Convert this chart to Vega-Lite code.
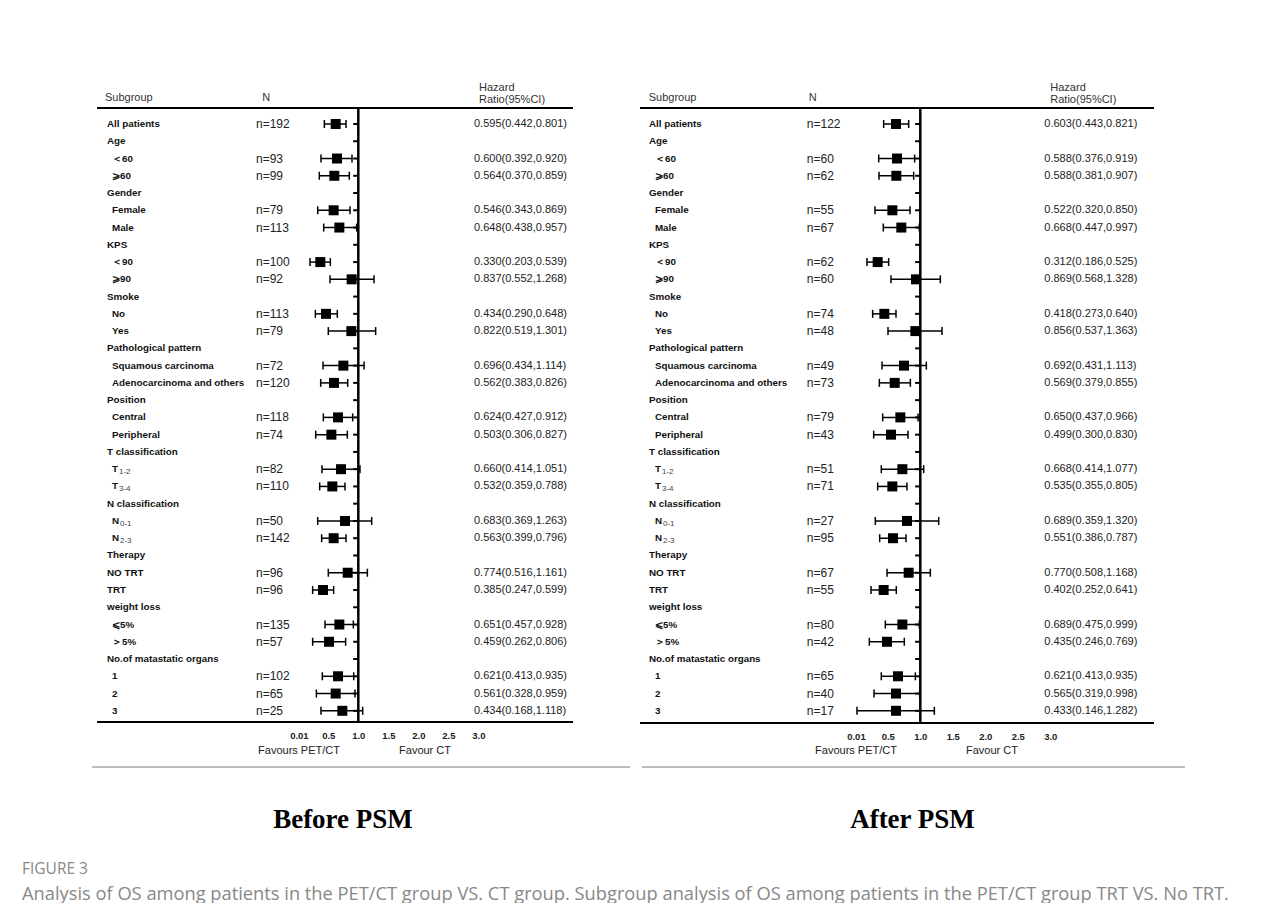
{
"$schema": "https://vega.github.io/schema/vega-lite/v6.json",
"background": "white",
"padding": {"left": 22, "top": 75, "right": 0, "bottom": 0},
"config": {"view": {"stroke": null}, "font": "Liberation Sans"},
"title": {"text": "FIGURE 3", "subtitle": "Analysis of OS among patients in the PET/CT group VS. CT group. Subgroup analysis of OS among patients in the PET/CT group TRT VS. No TRT.", "orient": "bottom", "anchor": "start", "offset": 29, "font": "Open Sans", "fontSize": 15.5, "fontWeight": "normal", "color": "#888888", "subtitleFont": "Open Sans", "subtitleFontSize": 18.3, "subtitleColor": "#888888", "subtitlePadding": 8},
"datasets": {
"before": [
{"r":0,"lvl":0,"label":"All patients","n":"n=192","hr":"0.595(0.442,0.801)","est":0.623,"lo":0.434,"hi":0.795},
{"r":1,"lvl":0,"label":"Age"},
{"r":2,"lvl":1,"label":"＜60","n":"n=93","hr":"0.600(0.392,0.920)","est":0.645,"lo":0.378,"hi":0.895},
{"r":3,"lvl":1,"label":"⩾60","n":"n=99","hr":"0.564(0.370,0.859)","est":0.600,"lo":0.350,"hi":0.850},
{"r":4,"lvl":0,"label":"Gender"},
{"r":5,"lvl":1,"label":"Female","n":"n=79","hr":"0.546(0.343,0.869)","est":0.589,"lo":0.323,"hi":0.862},
{"r":6,"lvl":1,"label":"Male","n":"n=113","hr":"0.648(0.438,0.957)","est":0.684,"lo":0.423,"hi":0.973},
{"r":7,"lvl":0,"label":"KPS"},
{"r":8,"lvl":1,"label":"＜90","n":"n=100","hr":"0.330(0.203,0.539)","est":0.367,"lo":0.195,"hi":0.534},
{"r":9,"lvl":1,"label":"⩾90","n":"n=92","hr":"0.837(0.552,1.268)","est":0.889,"lo":0.528,"hi":1.262},
{"r":10,"lvl":0,"label":"Smoke"},
{"r":11,"lvl":1,"label":"No","n":"n=113","hr":"0.434(0.290,0.648)","est":0.462,"lo":0.284,"hi":0.650},
{"r":12,"lvl":1,"label":"Yes","n":"n=79","hr":"0.822(0.519,1.301)","est":0.884,"lo":0.500,"hi":1.289},
{"r":13,"lvl":0,"label":"Pathological pattern"},
{"r":14,"lvl":1,"label":"Squamous carcinoma","n":"n=72","hr":"0.696(0.434,1.114)","est":0.751,"lo":0.412,"hi":1.096},
{"r":15,"lvl":1,"label":"Adenocarcinoma and others","n":"n=120","hr":"0.562(0.383,0.826)","est":0.595,"lo":0.373,"hi":0.823},
{"r":16,"lvl":0,"label":"Position"},
{"r":17,"lvl":1,"label":"Central","n":"n=118","hr":"0.624(0.427,0.912)","est":0.662,"lo":0.417,"hi":0.906},
{"r":18,"lvl":1,"label":"Peripheral","n":"n=74","hr":"0.503(0.306,0.827)","est":0.551,"lo":0.290,"hi":0.817},
{"r":19,"lvl":0,"label":"T classification"},
{"r":20,"lvl":1,"label":"T","sub":"1-2","n":"n=82","hr":"0.660(0.414,1.051)","est":0.712,"lo":0.395,"hi":1.028},
{"r":21,"lvl":1,"label":"T","sub":"3-4","n":"n=110","hr":"0.532(0.359,0.788)","est":0.567,"lo":0.356,"hi":0.778},
{"r":22,"lvl":0,"label":"N classification"},
{"r":23,"lvl":1,"label":"N","sub":"0-1","n":"n=50","hr":"0.683(0.369,1.263)","est":0.778,"lo":0.323,"hi":1.223},
{"r":24,"lvl":1,"label":"N","sub":"2-3","n":"n=142","hr":"0.563(0.399,0.796)","est":0.589,"lo":0.389,"hi":0.795},
{"r":25,"lvl":0,"label":"Therapy"},
{"r":26,"lvl":0,"label":"NO TRT","n":"n=96","hr":"0.774(0.516,1.161)","est":0.823,"lo":0.500,"hi":1.151},
{"r":27,"lvl":0,"label":"TRT","n":"n=96","hr":"0.385(0.247,0.599)","est":0.412,"lo":0.239,"hi":0.589},
{"r":28,"lvl":0,"label":"weight loss"},
{"r":29,"lvl":1,"label":"⩽5%","n":"n=135","hr":"0.651(0.457,0.928)","est":0.684,"lo":0.445,"hi":0.917},
{"r":30,"lvl":1,"label":"＞5%","n":"n=57","hr":"0.459(0.262,0.806)","est":0.512,"lo":0.239,"hi":0.789},
{"r":31,"lvl":0,"label":"No.of matastatic organs"},
{"r":32,"lvl":1,"label":"1","n":"n=102","hr":"0.621(0.413,0.935)","est":0.662,"lo":0.400,"hi":0.923},
{"r":33,"lvl":1,"label":"2","n":"n=65","hr":"0.561(0.328,0.959)","est":0.623,"lo":0.301,"hi":0.945},
{"r":34,"lvl":1,"label":"3","n":"n=25","hr":"0.434(0.168,1.118)","est":0.734,"lo":0.378,"hi":1.073}
],
"after": [
{"r":0,"lvl":0,"label":"All patients","n":"n=122","hr":"0.603(0.443,0.821)","est":0.626,"lo":0.436,"hi":0.821},
{"r":1,"lvl":0,"label":"Age"},
{"r":2,"lvl":1,"label":"＜60","n":"n=60","hr":"0.588(0.376,0.919)","est":0.642,"lo":0.360,"hi":0.913},
{"r":3,"lvl":1,"label":"⩾60","n":"n=62","hr":"0.588(0.381,0.907)","est":0.631,"lo":0.365,"hi":0.898},
{"r":4,"lvl":0,"label":"Gender"},
{"r":5,"lvl":1,"label":"Female","n":"n=55","hr":"0.522(0.320,0.850)","est":0.570,"lo":0.303,"hi":0.842},
{"r":6,"lvl":1,"label":"Male","n":"n=67","hr":"0.668(0.447,0.997)","est":0.708,"lo":0.431,"hi":0.985},
{"r":7,"lvl":0,"label":"KPS"},
{"r":8,"lvl":1,"label":"＜90","n":"n=62","hr":"0.312(0.186,0.525)","est":0.344,"lo":0.180,"hi":0.513},
{"r":9,"lvl":1,"label":"⩾90","n":"n=60","hr":"0.869(0.568,1.328)","est":0.934,"lo":0.549,"hi":1.308},
{"r":10,"lvl":0,"label":"Smoke"},
{"r":11,"lvl":1,"label":"No","n":"n=74","hr":"0.418(0.273,0.640)","est":0.447,"lo":0.267,"hi":0.626},
{"r":12,"lvl":1,"label":"Yes","n":"n=48","hr":"0.856(0.537,1.363)","est":0.924,"lo":0.503,"hi":1.334},
{"r":13,"lvl":0,"label":"Pathological pattern"},
{"r":14,"lvl":1,"label":"Squamous carcinoma","n":"n=49","hr":"0.692(0.431,1.113)","est":0.749,"lo":0.411,"hi":1.093},
{"r":15,"lvl":1,"label":"Adenocarcinoma and others","n":"n=73","hr":"0.569(0.379,0.855)","est":0.606,"lo":0.370,"hi":0.847},
{"r":16,"lvl":0,"label":"Position"},
{"r":17,"lvl":1,"label":"Central","n":"n=79","hr":"0.650(0.437,0.966)","est":0.693,"lo":0.421,"hi":0.965},
{"r":18,"lvl":1,"label":"Peripheral","n":"n=43","hr":"0.499(0.300,0.830)","est":0.549,"lo":0.283,"hi":0.811},
{"r":19,"lvl":0,"label":"T classification"},
{"r":20,"lvl":1,"label":"T","sub":"1-2","n":"n=51","hr":"0.668(0.414,1.077)","est":0.724,"lo":0.400,"hi":1.052},
{"r":21,"lvl":1,"label":"T","sub":"3-4","n":"n=71","hr":"0.535(0.355,0.805)","est":0.570,"lo":0.344,"hi":0.795},
{"r":22,"lvl":0,"label":"N classification"},
{"r":23,"lvl":1,"label":"N","sub":"0-1","n":"n=27","hr":"0.689(0.359,1.320)","est":0.795,"lo":0.308,"hi":1.283},
{"r":24,"lvl":1,"label":"N","sub":"2-3","n":"n=95","hr":"0.551(0.386,0.787)","est":0.580,"lo":0.375,"hi":0.780},
{"r":25,"lvl":0,"label":"Therapy"},
{"r":26,"lvl":0,"label":"NO TRT","n":"n=67","hr":"0.770(0.508,1.168)","est":0.821,"lo":0.488,"hi":1.154},
{"r":27,"lvl":0,"label":"TRT","n":"n=55","hr":"0.402(0.252,0.641)","est":0.436,"lo":0.242,"hi":0.631},
{"r":28,"lvl":0,"label":"weight loss"},
{"r":29,"lvl":1,"label":"⩽5%","n":"n=80","hr":"0.689(0.475,0.999)","est":0.724,"lo":0.462,"hi":0.985},
{"r":30,"lvl":1,"label":"＞5%","n":"n=42","hr":"0.435(0.246,0.769)","est":0.488,"lo":0.216,"hi":0.754},
{"r":31,"lvl":0,"label":"No.of matastatic organs"},
{"r":32,"lvl":1,"label":"1","n":"n=65","hr":"0.621(0.413,0.935)","est":0.657,"lo":0.400,"hi":0.924},
{"r":33,"lvl":1,"label":"2","n":"n=40","hr":"0.565(0.319,0.998)","est":0.626,"lo":0.288,"hi":0.990},
{"r":34,"lvl":1,"label":"3","n":"n=17","hr":"0.433(0.146,1.282)","est":0.626,"lo":0.026,"hi":1.216}
]
},
"hconcat": [
{
"width": 608, "height": 695,
"data": {"name": "before"},
"title": {"text": "Before PSM", "orient": "bottom", "font": "Liberation Serif", "fontSize": 27, "fontWeight": "bold", "color": "#000000", "offset": 37, "dx": 17},
"layer": [
{"data": {"values": [{}]}, "mark": {"type": "rule", "color": "#a8a8a8", "strokeWidth": 1.5},
 "encoding": {
  "x": {"datum": -3.438, "type": "quantitative", "scale": {"domain": [-4.605, 5.528], "nice": false, "zero": false},
        "axis": {"values": [0.01, 0.5, 1, 1.5, 2, 2.5, 3], "labelExpr": "datum.value == 0.01 ? '0.01' : format(datum.value, '.1f')", "domain": false, "ticks": false, "grid": false, "labelFont": "Liberation Sans", "labelFontWeight": "bold", "labelFontSize": 9.5, "labelColor": "#222222", "offset": -48, "labelPadding": 8, "title": null, "labelFlush": false, "labelOverlap": false}},
  "x2": {"datum": 5.528},
  "y": {"datum": 37.25, "type": "quantitative", "scale": {"domain": [-2.839, 37.43], "reverse": true, "nice": false, "zero": false}, "axis": null}}},
{"data": {"values": [{}]}, "mark": {"type": "rule", "color": "#000000", "strokeWidth": 2},
 "encoding": {"x": {"datum": -3.355, "type": "quantitative"}, "x2": {"datum": 4.578}, "y": {"datum": -0.93, "type": "quantitative"}}},
{"data": {"values": [{}]}, "mark": {"type": "rule", "color": "#000000", "strokeWidth": 2},
 "encoding": {"x": {"datum": -3.355, "type": "quantitative"}, "x2": {"datum": 4.578}, "y": {"datum": 34.65, "type": "quantitative"}}},
{"data": {"values": [{}]}, "mark": {"type": "rule", "color": "#000000", "strokeWidth": 2.5},
 "encoding": {"x": {"datum": 1, "type": "quantitative"}, "y": {"datum": -0.93, "type": "quantitative"}, "y2": {"datum": 34.65}}},
{"mark": {"type": "rule", "color": "#000000", "strokeWidth": 2},
 "encoding": {"x": {"datum": 0.915, "type": "quantitative"}, "x2": {"datum": 1}, "y": {"field": "r", "type": "quantitative"}}},
{"transform": [{"filter": "isValid(datum.est)"}], "mark": {"type": "rule", "color": "#000000", "strokeWidth": 1.5},
 "encoding": {"x": {"field": "lo", "type": "quantitative"}, "x2": {"field": "hi"}, "y": {"field": "r", "type": "quantitative"}}},
{"transform": [{"filter": "isValid(datum.est)"}], "mark": {"type": "tick", "orient": "vertical", "size": 8, "thickness": 1.5, "color": "#000000", "opacity": 1},
 "encoding": {"x": {"field": "lo", "type": "quantitative"}, "y": {"field": "r", "type": "quantitative"}}},
{"transform": [{"filter": "isValid(datum.est)"}], "mark": {"type": "tick", "orient": "vertical", "size": 8, "thickness": 1.5, "color": "#000000", "opacity": 1},
 "encoding": {"x": {"field": "hi", "type": "quantitative"}, "y": {"field": "r", "type": "quantitative"}}},
{"transform": [{"filter": "isValid(datum.est)"}], "mark": {"type": "square", "size": 100, "color": "#000000", "filled": true, "opacity": 1},
 "encoding": {"x": {"field": "est", "type": "quantitative"}, "y": {"field": "r", "type": "quantitative"}}},
{"transform": [{"filter": "datum.lvl == 0"}], "mark": {"type": "text", "align": "left", "baseline": "middle", "fontWeight": "bold", "fontSize": 9.8, "color": "#111111"},
 "encoding": {"x": {"datum": -3.188, "type": "quantitative"}, "y": {"field": "r", "type": "quantitative"}, "text": {"field": "label"}}},
{"transform": [{"filter": "datum.lvl == 1"}], "mark": {"type": "text", "align": "left", "baseline": "middle", "fontWeight": "bold", "fontSize": 9.8, "color": "#111111"},
 "encoding": {"x": {"datum": -3.105, "type": "quantitative"}, "y": {"field": "r", "type": "quantitative"}, "text": {"field": "label"}}},
{"transform": [{"filter": "datum.sub && datum.label == 'T'"}], "mark": {"type": "text", "align": "left", "baseline": "middle", "fontSize": 8, "dx": 7, "dy": 3, "color": "#444444"},
 "encoding": {"x": {"datum": -3.105, "type": "quantitative"}, "y": {"field": "r", "type": "quantitative"}, "text": {"field": "sub"}}},
{"transform": [{"filter": "datum.sub && datum.label == 'N'"}], "mark": {"type": "text", "align": "left", "baseline": "middle", "fontSize": 8, "dx": 8, "dy": 3, "color": "#444444"},
 "encoding": {"x": {"datum": -3.105, "type": "quantitative"}, "y": {"field": "r", "type": "quantitative"}, "text": {"field": "sub"}}},
{"transform": [{"filter": "datum.n"}], "mark": {"type": "text", "align": "left", "baseline": "middle", "fontSize": 12, "color": "#222222"},
 "encoding": {"x": {"datum": -0.705, "type": "quantitative"}, "y": {"field": "r", "type": "quantitative"}, "text": {"field": "n"}}},
{"transform": [{"filter": "datum.hr"}], "mark": {"type": "text", "align": "left", "baseline": "middle", "fontSize": 11, "color": "#222222"},
 "encoding": {"x": {"datum": 2.928, "type": "quantitative"}, "y": {"field": "r", "type": "quantitative"}, "text": {"field": "hr"}}},
{"data": {"values": [{}]}, "mark": {"type": "text", "text": "Subgroup", "align": "left", "baseline": "middle", "fontSize": 11, "color": "#333333"},
 "encoding": {"x": {"datum": -3.222, "type": "quantitative"}, "y": {"datum": -1.52, "type": "quantitative"}}},
{"data": {"values": [{}]}, "mark": {"type": "text", "text": "N", "align": "left", "baseline": "middle", "fontSize": 11, "color": "#333333"},
 "encoding": {"x": {"datum": -0.6, "type": "quantitative"}, "y": {"datum": -1.52, "type": "quantitative"}}},
{"data": {"values": [{}]}, "mark": {"type": "text", "text": "Hazard", "align": "left", "baseline": "middle", "fontSize": 11, "color": "#333333"},
 "encoding": {"x": {"datum": 3.012, "type": "quantitative"}, "y": {"datum": -2.11, "type": "quantitative"}}},
{"data": {"values": [{}]}, "mark": {"type": "text", "text": "Ratio(95%CI)", "align": "left", "baseline": "middle", "fontSize": 11, "color": "#333333"},
 "encoding": {"x": {"datum": 3.012, "type": "quantitative"}, "y": {"datum": -1.39, "type": "quantitative"}}},
{"data": {"values": [{}]}, "mark": {"type": "text", "text": "Favours PET/CT", "align": "center", "baseline": "middle", "fontSize": 11, "color": "#222222"},
 "encoding": {"x": {"datum": 0.012, "type": "quantitative"}, "y": {"datum": 36.33, "type": "quantitative"}}},
{"data": {"values": [{}]}, "mark": {"type": "text", "text": "Favour CT", "align": "center", "baseline": "middle", "fontSize": 11, "color": "#222222"},
 "encoding": {"x": {"datum": 2.112, "type": "quantitative"}, "y": {"datum": 36.33, "type": "quantitative"}}}
]
},
{
"width": 545, "height": 695,
"data": {"name": "after"},
"title": {"text": "After PSM", "orient": "bottom", "font": "Liberation Serif", "fontSize": 27, "fontWeight": "bold", "color": "#000000", "offset": 37, "dx": 0},
"layer": [
{"data": {"values": [{}]}, "mark": {"type": "rule", "color": "#a8a8a8", "strokeWidth": 1.5},
 "encoding": {
  "x": {"datum": -3.282, "type": "quantitative", "scale": {"domain": [-3.312, 5.072], "nice": false, "zero": false},
        "axis": {"values": [0.01, 0.5, 1, 1.5, 2, 2.5, 3], "labelExpr": "datum.value == 0.01 ? '0.01' : format(datum.value, '.1f')", "domain": false, "ticks": false, "grid": false, "labelFont": "Liberation Sans", "labelFontWeight": "bold", "labelFontSize": 9.5, "labelColor": "#222222", "offset": -47, "labelPadding": 8, "title": null, "labelFlush": false, "labelOverlap": false}},
  "x2": {"datum": 5.072},
  "y": {"datum": 37.25, "type": "quantitative", "scale": {"domain": [-2.839, 37.43], "reverse": true, "nice": false, "zero": false}, "axis": null}}},
{"data": {"values": [{}]}, "mark": {"type": "rule", "color": "#000000", "strokeWidth": 2},
 "encoding": {"x": {"datum": -3.312, "type": "quantitative"}, "x2": {"datum": 4.595}, "y": {"datum": -0.93, "type": "quantitative"}}},
{"data": {"values": [{}]}, "mark": {"type": "rule", "color": "#000000", "strokeWidth": 2},
 "encoding": {"x": {"datum": -3.312, "type": "quantitative"}, "x2": {"datum": 4.595}, "y": {"datum": 34.7, "type": "quantitative"}}},
{"data": {"values": [{}]}, "mark": {"type": "rule", "color": "#000000", "strokeWidth": 2.5},
 "encoding": {"x": {"datum": 1, "type": "quantitative"}, "y": {"datum": -0.93, "type": "quantitative"}, "y2": {"datum": 34.7}}},
{"mark": {"type": "rule", "color": "#000000", "strokeWidth": 2},
 "encoding": {"x": {"datum": 0.92, "type": "quantitative"}, "x2": {"datum": 1}, "y": {"field": "r", "type": "quantitative"}}},
{"transform": [{"filter": "isValid(datum.est)"}], "mark": {"type": "rule", "color": "#000000", "strokeWidth": 1.5},
 "encoding": {"x": {"field": "lo", "type": "quantitative"}, "x2": {"field": "hi"}, "y": {"field": "r", "type": "quantitative"}}},
{"transform": [{"filter": "isValid(datum.est)"}], "mark": {"type": "tick", "orient": "vertical", "size": 8, "thickness": 1.5, "color": "#000000", "opacity": 1},
 "encoding": {"x": {"field": "lo", "type": "quantitative"}, "y": {"field": "r", "type": "quantitative"}}},
{"transform": [{"filter": "isValid(datum.est)"}], "mark": {"type": "tick", "orient": "vertical", "size": 8, "thickness": 1.5, "color": "#000000", "opacity": 1},
 "encoding": {"x": {"field": "hi", "type": "quantitative"}, "y": {"field": "r", "type": "quantitative"}}},
{"transform": [{"filter": "isValid(datum.est)"}], "mark": {"type": "square", "size": 100, "color": "#000000", "filled": true, "opacity": 1},
 "encoding": {"x": {"field": "est", "type": "quantitative"}, "y": {"field": "r", "type": "quantitative"}}},
{"transform": [{"filter": "datum.lvl == 0"}], "mark": {"type": "text", "align": "left", "baseline": "middle", "fontWeight": "bold", "fontSize": 9.8, "color": "#111111"},
 "encoding": {"x": {"datum": -3.174, "type": "quantitative"}, "y": {"field": "r", "type": "quantitative"}, "text": {"field": "label"}}},
{"transform": [{"filter": "datum.lvl == 1"}], "mark": {"type": "text", "align": "left", "baseline": "middle", "fontWeight": "bold", "fontSize": 9.8, "color": "#111111"},
 "encoding": {"x": {"datum": -3.082, "type": "quantitative"}, "y": {"field": "r", "type": "quantitative"}, "text": {"field": "label"}}},
{"transform": [{"filter": "datum.sub && datum.label == 'T'"}], "mark": {"type": "text", "align": "left", "baseline": "middle", "fontSize": 8, "dx": 7, "dy": 3, "color": "#444444"},
 "encoding": {"x": {"datum": -3.082, "type": "quantitative"}, "y": {"field": "r", "type": "quantitative"}, "text": {"field": "sub"}}},
{"transform": [{"filter": "datum.sub && datum.label == 'N'"}], "mark": {"type": "text", "align": "left", "baseline": "middle", "fontSize": 8, "dx": 8, "dy": 3, "color": "#444444"},
 "encoding": {"x": {"datum": -3.082, "type": "quantitative"}, "y": {"field": "r", "type": "quantitative"}, "text": {"field": "sub"}}},
{"transform": [{"filter": "datum.n"}], "mark": {"type": "text", "align": "left", "baseline": "middle", "fontSize": 12, "color": "#222222"},
 "encoding": {"x": {"datum": -0.746, "type": "quantitative"}, "y": {"field": "r", "type": "quantitative"}, "text": {"field": "n"}}},
{"transform": [{"filter": "datum.hr"}], "mark": {"type": "text", "align": "left", "baseline": "middle", "fontSize": 11, "color": "#222222"},
 "encoding": {"x": {"datum": 2.908, "type": "quantitative"}, "y": {"field": "r", "type": "quantitative"}, "text": {"field": "hr"}}},
{"data": {"values": [{}]}, "mark": {"type": "text", "text": "Subgroup", "align": "left", "baseline": "middle", "fontSize": 11, "color": "#333333"},
 "encoding": {"x": {"datum": -3.178, "type": "quantitative"}, "y": {"datum": -1.52, "type": "quantitative"}}},
{"data": {"values": [{}]}, "mark": {"type": "text", "text": "N", "align": "left", "baseline": "middle", "fontSize": 11, "color": "#333333"},
 "encoding": {"x": {"datum": -0.717, "type": "quantitative"}, "y": {"datum": -1.52, "type": "quantitative"}}},
{"data": {"values": [{}]}, "mark": {"type": "text", "text": "Hazard", "align": "left", "baseline": "middle", "fontSize": 11, "color": "#333333"},
 "encoding": {"x": {"datum": 3.0, "type": "quantitative"}, "y": {"datum": -2.11, "type": "quantitative"}}},
{"data": {"values": [{}]}, "mark": {"type": "text", "text": "Ratio(95%CI)", "align": "left", "baseline": "middle", "fontSize": 11, "color": "#333333"},
 "encoding": {"x": {"datum": 3.0, "type": "quantitative"}, "y": {"datum": -1.39, "type": "quantitative"}}},
{"data": {"values": [{}]}, "mark": {"type": "text", "text": "Favours PET/CT", "align": "center", "baseline": "middle", "fontSize": 11, "color": "#222222"},
 "encoding": {"x": {"datum": 0.011, "type": "quantitative"}, "y": {"datum": 36.33, "type": "quantitative"}}},
{"data": {"values": [{}]}, "mark": {"type": "text", "text": "Favour CT", "align": "center", "baseline": "middle", "fontSize": 11, "color": "#222222"},
 "encoding": {"x": {"datum": 2.103, "type": "quantitative"}, "y": {"datum": 36.33, "type": "quantitative"}}}
]
}
],
"spacing": 8,
"resolve": {"scale": {"x": "independent", "y": "independent"}}
}
